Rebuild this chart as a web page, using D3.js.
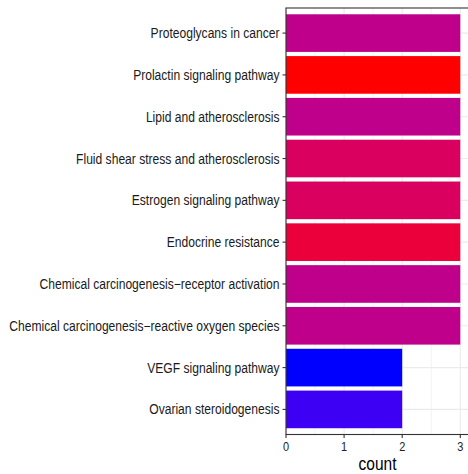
<!DOCTYPE html>
<html>
<head>
<meta charset="utf-8">
<script src="https://cdn.jsdelivr.net/npm/d3@7"></script>
<style>
  body { margin: 0; background: #fff; }
  svg { display: block; }
</style>
</head>
<body>
<script>
// KEGG pathways, listed top to bottom
const pathways = [
  "Proteoglycans in cancer",
  "Prolactin signaling pathway",
  "Lipid and atherosclerosis",
  "Fluid shear stress and atherosclerosis",
  "Estrogen signaling pathway",
  "Endocrine resistance",
  "Chemical carcinogenesis\u2212receptor activation",
  "Chemical carcinogenesis\u2212reactive oxygen species",
  "VEGF signaling pathway",
  "Ovarian steroidogenesis"
];
// gene count per pathway
const counts = [3, 3, 3, 3, 3, 3, 3, 3, 2, 2];
// adjusted p-values (fill colour)
const padj = [0.0061, 0.0010, 0.0061, 0.0042, 0.0042, 0.0027, 0.0061, 0.0061, 0.0110, 0.0106];
const countTicks = [0, 1, 2, 3];
const axisTitle = "count";

const W = 468, H = 474;
const panel = { left: 286, top: 8, right: 469, bottom: 434.5 };
const vStretch = 1.15;
const font = "'Liberation Sans', Arial, Helvetica, sans-serif";

const svg = d3.select("body").append("svg")
  .attr("width", W).attr("height", H);

svg.append("rect").attr("width", W).attr("height", H).attr("fill", "#fff");

const x = d3.scaleLinear().domain([0, 3.15]).range([panel.left, panel.right]);
const pos = d3.scaleLinear().domain([0.4, pathways.length + 0.6]).range([panel.top, panel.bottom]);
const yc = i => pos(i + 1);
const unit = pos(1) - pos(0);

const fill = d3.scaleLinear()
  .domain(d3.extent(padj))
  .range(["red", "blue"])
  .interpolate(d3.interpolateLab);

const g = svg.append("g");

// panel grid
const minorTicks = [0.5, 1.5, 2.5];
g.selectAll("line.minor").data(minorTicks).join("line")
  .attr("x1", d => x(d)).attr("x2", d => x(d))
  .attr("y1", panel.top).attr("y2", panel.bottom)
  .attr("stroke", "#EBEBEB").attr("stroke-width", 0.6);
g.selectAll("line.majorx").data(countTicks).join("line")
  .attr("x1", d => x(d)).attr("x2", d => x(d))
  .attr("y1", panel.top).attr("y2", panel.bottom)
  .attr("stroke", "#EBEBEB").attr("stroke-width", 1.1);
g.selectAll("line.majory").data(pathways).join("line")
  .attr("x1", panel.left).attr("x2", panel.right)
  .attr("y1", (d, i) => yc(i)).attr("y2", (d, i) => yc(i))
  .attr("stroke", "#EBEBEB").attr("stroke-width", 1.1);

// bars
g.selectAll("rect.bar").data(pathways).join("rect")
  .attr("class", "bar")
  .attr("x", x(0))
  .attr("y", (d, i) => yc(i) - unit * 0.45)
  .attr("width", (d, i) => x(counts[i]) - x(0))
  .attr("height", unit * 0.9)
  .attr("fill", (d, i) => fill(padj[i]));

// panel border
g.append("rect")
  .attr("x", panel.left).attr("y", panel.top)
  .attr("width", panel.right - panel.left).attr("height", panel.bottom - panel.top)
  .attr("fill", "none").attr("stroke", "#333").attr("stroke-width", 1.1);

// y axis ticks and labels
g.selectAll("line.ytick").data(pathways).join("line")
  .attr("x1", panel.left - 3.5).attr("x2", panel.left)
  .attr("y1", (d, i) => yc(i)).attr("y2", (d, i) => yc(i))
  .attr("stroke", "#333").attr("stroke-width", 1.1);
g.selectAll("text.ylab").data(pathways).join("text")
  .attr("text-anchor", "end")
  .attr("font-family", font)
  .attr("font-size", 12.1)
  .attr("fill", "#1a1a1a")
  .attr("transform", (d, i) => `translate(${panel.left - 6.5},${yc(i) + 5}) scale(1,${vStretch})`)
  .text(d => d);

// x axis ticks and labels
g.selectAll("line.xtick").data(countTicks).join("line")
  .attr("x1", d => x(d)).attr("x2", d => x(d))
  .attr("y1", panel.bottom).attr("y2", panel.bottom + 3.5)
  .attr("stroke", "#333").attr("stroke-width", 1.1);
g.selectAll("text.xlab").data(countTicks).join("text")
  .attr("text-anchor", "middle")
  .attr("font-family", font)
  .attr("font-size", 11)
  .attr("fill", "#222")
  .attr("transform", d => `translate(${x(d)},${panel.bottom + 16}) scale(1,${vStretch})`)
  .text(d => d);

// axis title
g.append("text")
  .attr("text-anchor", "middle")
  .attr("font-family", font)
  .attr("font-size", 15.5)
  .attr("fill", "#000")
  .attr("transform", `translate(${(panel.left + panel.right) / 2},${H - 4}) scale(1,${vStretch})`)
  .text(axisTitle);
</script>
</body>
</html>
